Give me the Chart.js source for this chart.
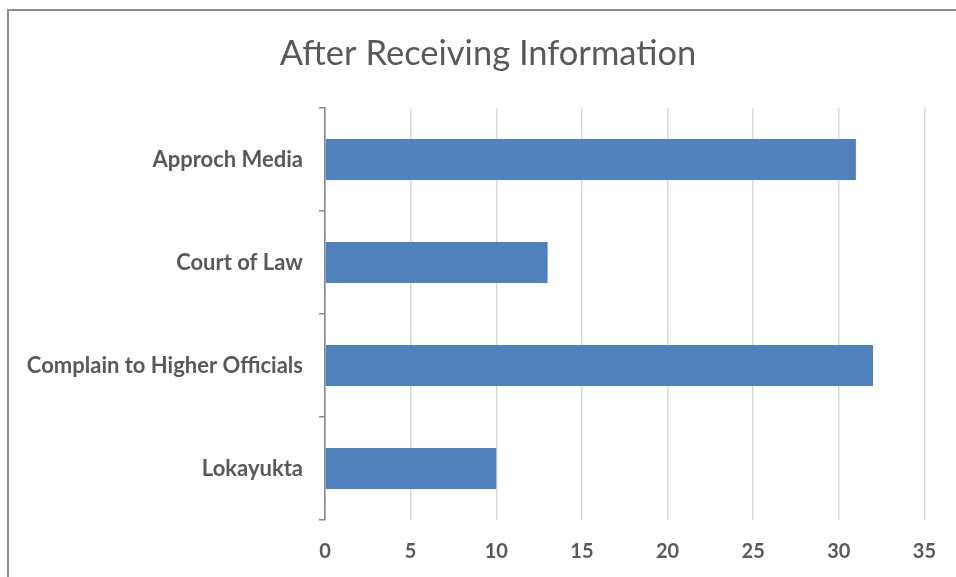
<!DOCTYPE html>
<html>
<head>
<meta charset="utf-8">
<script src="https://cdn.jsdelivr.net/npm/chart.js@4"></script>
<style>
  html, body { margin: 0; padding: 0; background: #fff; overflow: hidden; }
  #frame {
    position: absolute; left: 7px; top: 9px; width: 1000px; height: 700px;
    border-left: 2px solid #8c8c8c; border-top: 2px solid #8c8c8c;
  }
  #wrap { position: absolute; left: 0; top: 0; width: 956px; height: 577px; }
</style>
</head>
<body>
<div id="frame"></div>
<div id="wrap"><canvas id="barChart"></canvas></div>
<script>
// Chart data
const chartTitle = 'After Receiving Information';
const categories = ['Approch Media', 'Court of Law', 'Complain to Higher Officials', 'Lokayukta'];
const responses = [31, 13, 32, 10];
const xTicks = [0, 5, 10, 15, 20, 25, 30, 35];

const textColor = '#595959';

// Title drawn centred on the whole frame, not just the plot
const titlePlugin = {
  id: 'frameTitle',
  afterDraw(chart) {
    const c = chart.ctx;
    c.save();
    c.fillStyle = textColor;
    c.font = '34.5px Lato';
    c.textAlign = 'center';
    c.textBaseline = 'alphabetic';
    c.fillText(chartTitle, 488, 65);
    c.restore();
  }
};

const ctx = document.getElementById('barChart').getContext('2d');

const barChart = new Chart(ctx, {
  type: 'bar',
  data: {
    labels: categories,
    datasets: [
      { label: 'Responses', data: responses, backgroundColor: '#4f81bd', barPercentage: 0.4, categoryPercentage: 1 }
    ]
  },
  options: {
    indexAxis: 'y',
    responsive: true,
    maintainAspectRatio: false,
    animation: false,
    layout: { padding: { left: 0, right: 27, top: 108, bottom: 0 } },
    plugins: {
      legend: { display: false },
      tooltip: { enabled: false },
      title: { display: false }
    },
    scales: {
      x: {
        min: 0,
        max: 35,
        afterBuildTicks: function(scale) {
          scale.ticks = xTicks.map(v => ({ value: v }));
        },
        afterFit: function(scale) { scale.height = 57; },
        grid: { color: '#d9d9d9', lineWidth: 1.5, drawTicks: false },
        border: { display: false },
        ticks: { color: textColor, padding: 20, font: { family: 'Lato', size: 20, weight: 'bold' } }
      },
      y: {
        afterFit: function(scale) { scale.width = 325; },
        grid: { drawOnChartArea: false, drawTicks: true, tickLength: 6, color: '#868686', lineWidth: 1.5 },
        border: { display: true, color: '#868686', width: 1.5 },
        ticks: { color: textColor, padding: 16, font: { family: 'Lato', size: 22, weight: 'bold' } }
      }
    }
  },
  plugins: [titlePlugin]
});
</script>
</body>
</html>
